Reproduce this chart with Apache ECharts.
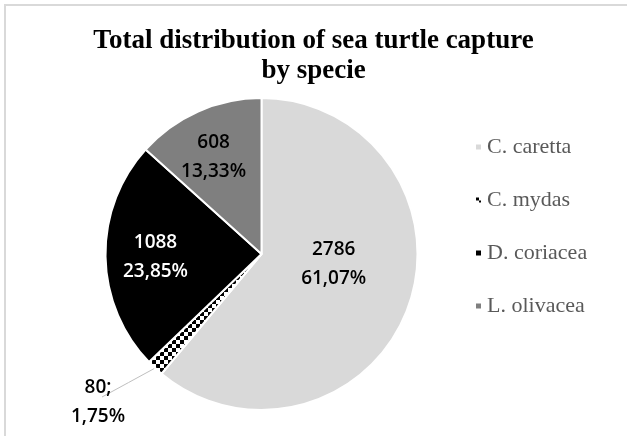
<!DOCTYPE html>
<html>
<head>
<meta charset="utf-8">
<script src="https://cdn.jsdelivr.net/npm/echarts@6/dist/echarts.min.js"></script>
<style>
    html, body { margin: 0; padding: 0; background: #fff; }
    #chart { width: 627px; height: 436px; }
</style>
</head>
<body>
<div id="chart"></div>
<script>
    // data
    var species = ['C. caretta', 'C. mydas', 'D. coriacea', 'L. olivacea'];
    var captures = [2786, 80, 1088, 608];

    // checker pattern for C. mydas
    var checker = document.createElement('canvas');
    checker.width = 8;
    checker.height = 8;
    var ctx = checker.getContext('2d');
    ctx.fillStyle = '#fff';
    ctx.fillRect(0, 0, 8, 8);
    ctx.fillStyle = '#000';
    ctx.fillRect(0, 0, 4, 4);
    ctx.fillRect(4, 4, 4, 4);

    var sliceColors = ['#d9d9d9', { image: checker, repeat: 'repeat' }, '#000000', '#7f7f7f'];
    var labelColors = ['#000', '#000', '#fff', '#000'];
    // nudges so the inside labels sit where the original put them
    var nudges = [[-4, -18], [0, 0], [-25, 2], [-15, -23]];

    function pct(p) {
        return p.toFixed(2).replace('.', ',') + '%';
    }

    var pieData = species.map(function (name, i) {
        var item = {
            name: name,
            value: captures[i],
            itemStyle: { color: sliceColors[i] },
            label: { color: labelColors[i], offset: nudges[i] }
        };
        if (i === 1) {
            item.label = {
                position: 'outside',
                color: '#000',
                fontFamily: 'Open Sans',
                fontWeight: 600,
                fontSize: 19,
                lineHeight: 29,
                formatter: function (p) { return p.value + ';\n' + pct(p.percent); }
            };
            item.labelLine = { show: true, length: 20, length2: 10, lineStyle: { color: '#bfbfbf', width: 1 } };
        }
        return item;
    });

    var myChart = echarts.init(document.getElementById('chart'));
    var option = {
        animation: false,
        backgroundColor: '#fff',
        graphic: [{
            type: 'rect',
            shape: { x: 5, y: 5, width: 700, height: 500 },
            style: { fill: 'none', stroke: '#d9d9d9', lineWidth: 2 }
        }],
        title: {
            text: 'Total distribution of sea turtle capture\nby specie',
            left: 'center',
            top: 21,
            textStyle: {
                fontFamily: 'Liberation Serif',
                fontWeight: 'bold',
                fontSize: 27,
                lineHeight: 30,
                color: '#000'
            }
        },
        legend: {
            orient: 'vertical',
            left: 469,
            top: 131,
            itemWidth: 7,
            itemHeight: 7,
            itemGap: 31,
            icon: 'rect',
            data: species,
            textStyle: {
                fontFamily: 'Liberation Serif',
                fontSize: 22,
                lineHeight: 22,
                color: '#595959'
            }
        },
        series: [{
            type: 'pie',
            center: [261.5, 254],
            radius: 156,
            startAngle: 90,
            clockwise: true,
            avoidLabelOverlap: false,
            itemStyle: { borderColor: '#fff', borderWidth: 2 },
            label: {
                show: true,
                position: 'inside',
                fontFamily: 'Open Sans',
                fontWeight: 600,
                fontSize: 19,
                lineHeight: 29,
                align: 'center',
                formatter: function (p) { return p.value + '\n' + pct(p.percent); }
            },
            labelLine: { show: false },
            labelLayout: function (params) {
                if (params.dataIndex === 1) {
                    var x = 98, y = 402;
                    var out = { x: x, y: y, align: 'center', verticalAlign: 'middle' };
                    var pts = params.labelLinePoints;
                    if (pts && pts.length) {
                        var a = pts[0];
                        var b = [x + 4, y - 5];
                        out.labelLinePoints = [a, [(a[0] + b[0]) / 2, (a[1] + b[1]) / 2], b];
                    }
                    return out;
                }
                return {};
            },
            data: pieData
        }]
    };
    myChart.setOption(option);
</script>
</body>
</html>
